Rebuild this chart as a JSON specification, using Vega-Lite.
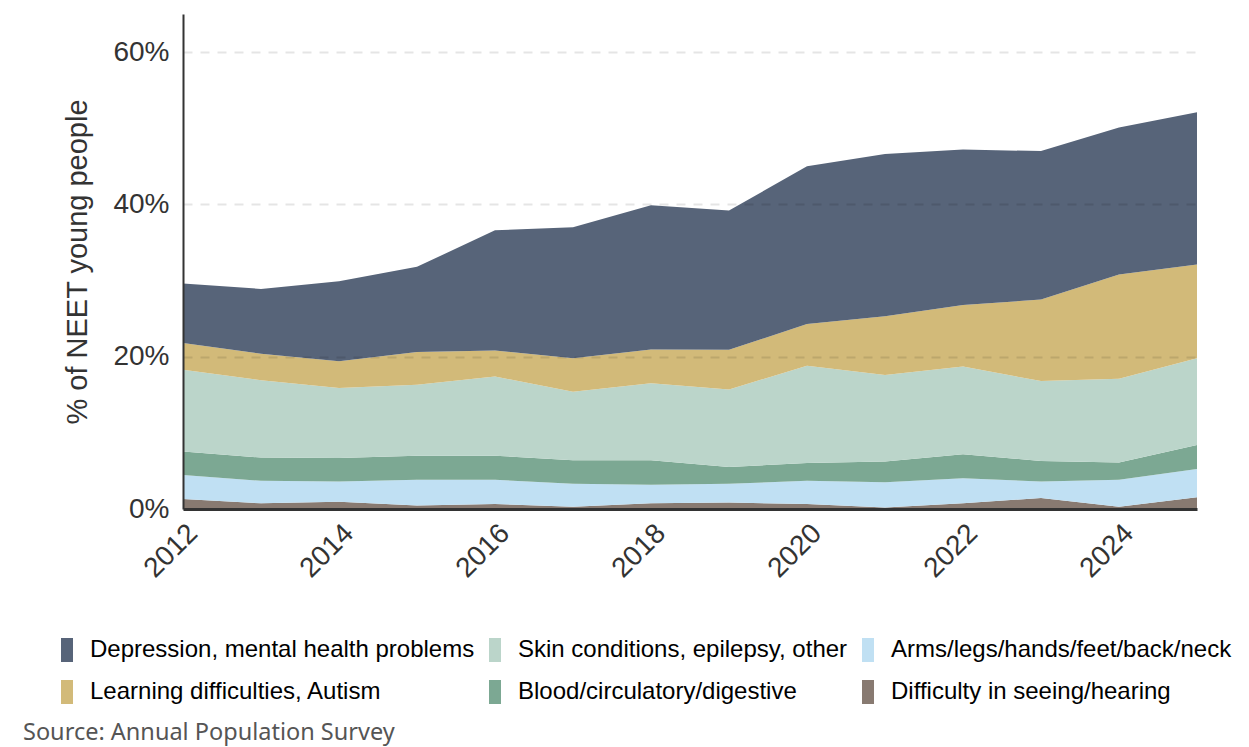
{
  "$schema": "https://vega.github.io/schema/vega-lite/v6.json",
  "width": 1014,
  "height": 495,
  "autosize": {"type": "none"},
  "padding": {"left": 183, "top": 14, "right": 52, "bottom": 238},
  "background": "white",
  "config": {
    "view": {"stroke": null},
    "font": "Liberation Sans"
  },
  "title": {
    "text": "Source: Annual Population Survey",
    "orient": "bottom",
    "anchor": "start",
    "frame": "group",
    "font": "Noto Sans",
    "fontSize": 23.5,
    "fontWeight": "normal",
    "color": "#555555",
    "dx": -160,
    "offset": 17
  },
  "data": {
    "values": [
      {"year": 2012, "cause": "Difficulty in seeing/hearing", "value": 1.3},
      {"year": 2012, "cause": "Arms/legs/hands/feet/back/neck", "value": 3.15},
      {"year": 2012, "cause": "Blood/circulatory/digestive", "value": 3.1},
      {"year": 2012, "cause": "Skin conditions, epilepsy, other", "value": 10.75},
      {"year": 2012, "cause": "Learning difficulties, Autism", "value": 3.5},
      {"year": 2012, "cause": "Depression, mental health problems", "value": 7.8},
      {"year": 2013, "cause": "Difficulty in seeing/hearing", "value": 0.75},
      {"year": 2013, "cause": "Arms/legs/hands/feet/back/neck", "value": 2.95},
      {"year": 2013, "cause": "Blood/circulatory/digestive", "value": 3.05},
      {"year": 2013, "cause": "Skin conditions, epilepsy, other", "value": 10.15},
      {"year": 2013, "cause": "Learning difficulties, Autism", "value": 3.5},
      {"year": 2013, "cause": "Depression, mental health problems", "value": 8.5},
      {"year": 2014, "cause": "Difficulty in seeing/hearing", "value": 0.95},
      {"year": 2014, "cause": "Arms/legs/hands/feet/back/neck", "value": 2.65},
      {"year": 2014, "cause": "Blood/circulatory/digestive", "value": 3.1},
      {"year": 2014, "cause": "Skin conditions, epilepsy, other", "value": 9.2},
      {"year": 2014, "cause": "Learning difficulties, Autism", "value": 3.5},
      {"year": 2014, "cause": "Depression, mental health problems", "value": 10.5},
      {"year": 2015, "cause": "Difficulty in seeing/hearing", "value": 0.45},
      {"year": 2015, "cause": "Arms/legs/hands/feet/back/neck", "value": 3.4},
      {"year": 2015, "cause": "Blood/circulatory/digestive", "value": 3.15},
      {"year": 2015, "cause": "Skin conditions, epilepsy, other", "value": 9.3},
      {"year": 2015, "cause": "Learning difficulties, Autism", "value": 4.3},
      {"year": 2015, "cause": "Depression, mental health problems", "value": 11.2},
      {"year": 2016, "cause": "Difficulty in seeing/hearing", "value": 0.65},
      {"year": 2016, "cause": "Arms/legs/hands/feet/back/neck", "value": 3.2},
      {"year": 2016, "cause": "Blood/circulatory/digestive", "value": 3.15},
      {"year": 2016, "cause": "Skin conditions, epilepsy, other", "value": 10.4},
      {"year": 2016, "cause": "Learning difficulties, Autism", "value": 3.4},
      {"year": 2016, "cause": "Depression, mental health problems", "value": 15.8},
      {"year": 2017, "cause": "Difficulty in seeing/hearing", "value": 0.3},
      {"year": 2017, "cause": "Arms/legs/hands/feet/back/neck", "value": 3.0},
      {"year": 2017, "cause": "Blood/circulatory/digestive", "value": 3.1},
      {"year": 2017, "cause": "Skin conditions, epilepsy, other", "value": 9.0},
      {"year": 2017, "cause": "Learning difficulties, Autism", "value": 4.4},
      {"year": 2017, "cause": "Depression, mental health problems", "value": 17.2},
      {"year": 2018, "cause": "Difficulty in seeing/hearing", "value": 0.75},
      {"year": 2018, "cause": "Arms/legs/hands/feet/back/neck", "value": 2.45},
      {"year": 2018, "cause": "Blood/circulatory/digestive", "value": 3.2},
      {"year": 2018, "cause": "Skin conditions, epilepsy, other", "value": 10.1},
      {"year": 2018, "cause": "Learning difficulties, Autism", "value": 4.45},
      {"year": 2018, "cause": "Depression, mental health problems", "value": 18.95},
      {"year": 2019, "cause": "Difficulty in seeing/hearing", "value": 0.85},
      {"year": 2019, "cause": "Arms/legs/hands/feet/back/neck", "value": 2.45},
      {"year": 2019, "cause": "Blood/circulatory/digestive", "value": 2.2},
      {"year": 2019, "cause": "Skin conditions, epilepsy, other", "value": 10.2},
      {"year": 2019, "cause": "Learning difficulties, Autism", "value": 5.2},
      {"year": 2019, "cause": "Depression, mental health problems", "value": 18.3},
      {"year": 2020, "cause": "Difficulty in seeing/hearing", "value": 0.65},
      {"year": 2020, "cause": "Arms/legs/hands/feet/back/neck", "value": 3.05},
      {"year": 2020, "cause": "Blood/circulatory/digestive", "value": 2.35},
      {"year": 2020, "cause": "Skin conditions, epilepsy, other", "value": 12.75},
      {"year": 2020, "cause": "Learning difficulties, Autism", "value": 5.5},
      {"year": 2020, "cause": "Depression, mental health problems", "value": 20.7},
      {"year": 2021, "cause": "Difficulty in seeing/hearing", "value": 0.2},
      {"year": 2021, "cause": "Arms/legs/hands/feet/back/neck", "value": 3.3},
      {"year": 2021, "cause": "Blood/circulatory/digestive", "value": 2.75},
      {"year": 2021, "cause": "Skin conditions, epilepsy, other", "value": 11.35},
      {"year": 2021, "cause": "Learning difficulties, Autism", "value": 7.7},
      {"year": 2021, "cause": "Depression, mental health problems", "value": 21.3},
      {"year": 2022, "cause": "Difficulty in seeing/hearing", "value": 0.75},
      {"year": 2022, "cause": "Arms/legs/hands/feet/back/neck", "value": 3.3},
      {"year": 2022, "cause": "Blood/circulatory/digestive", "value": 3.15},
      {"year": 2022, "cause": "Skin conditions, epilepsy, other", "value": 11.5},
      {"year": 2022, "cause": "Learning difficulties, Autism", "value": 8.1},
      {"year": 2022, "cause": "Depression, mental health problems", "value": 20.4},
      {"year": 2023, "cause": "Difficulty in seeing/hearing", "value": 1.45},
      {"year": 2023, "cause": "Arms/legs/hands/feet/back/neck", "value": 2.15},
      {"year": 2023, "cause": "Blood/circulatory/digestive", "value": 2.7},
      {"year": 2023, "cause": "Skin conditions, epilepsy, other", "value": 10.5},
      {"year": 2023, "cause": "Learning difficulties, Autism", "value": 10.7},
      {"year": 2023, "cause": "Depression, mental health problems", "value": 19.5},
      {"year": 2024, "cause": "Difficulty in seeing/hearing", "value": 0.3},
      {"year": 2024, "cause": "Arms/legs/hands/feet/back/neck", "value": 3.55},
      {"year": 2024, "cause": "Blood/circulatory/digestive", "value": 2.25},
      {"year": 2024, "cause": "Skin conditions, epilepsy, other", "value": 11.0},
      {"year": 2024, "cause": "Learning difficulties, Autism", "value": 13.7},
      {"year": 2024, "cause": "Depression, mental health problems", "value": 19.3},
      {"year": 2025, "cause": "Difficulty in seeing/hearing", "value": 1.55},
      {"year": 2025, "cause": "Arms/legs/hands/feet/back/neck", "value": 3.7},
      {"year": 2025, "cause": "Blood/circulatory/digestive", "value": 3.15},
      {"year": 2025, "cause": "Skin conditions, epilepsy, other", "value": 11.4},
      {"year": 2025, "cause": "Learning difficulties, Autism", "value": 12.3},
      {"year": 2025, "cause": "Depression, mental health problems", "value": 20.0}
    ]
  },
  "transform": [
    {"calculate": "indexof(['Difficulty in seeing/hearing','Arms/legs/hands/feet/back/neck','Blood/circulatory/digestive','Skin conditions, epilepsy, other','Learning difficulties, Autism','Depression, mental health problems'], datum.cause)", "as": "stackRank"}
  ],
  "mark": {"type": "area", "interpolate": "linear"},
  "encoding": {
    "x": {
      "field": "year",
      "type": "quantitative",
      "scale": {"domain": [2012, 2025], "nice": false, "zero": false},
      "axis": {
        "title": null,
        "values": [2012, 2014, 2016, 2018, 2020, 2022, 2024],
        "format": "d",
        "labelAngle": -45,
        "labelFontSize": 28,
        "labelColor": "#333333",
        "labelPadding": 10,
        "ticks": false,
        "grid": false,
        "domainColor": "#333333",
        "domainWidth": 3,
        "zindex": 1
      }
    },
    "y": {
      "field": "value",
      "type": "quantitative",
      "stack": "zero",
      "scale": {"domain": [0, 65], "nice": false},
      "axis": {
        "title": "% of NEET young people",
        "titleFontSize": 29,
        "titleFontWeight": "normal",
        "titleColor": "#333333",
        "titlePadding": 20,
        "values": [0, 20, 40, 60],
        "labelExpr": "datum.value + '%'",
        "labelFontSize": 28,
        "labelColor": "#333333",
        "labelPadding": 14,
        "ticks": false,
        "grid": true,
        "gridColor": "#000000",
        "gridOpacity": 0.1,
        "gridWidth": 2,
        "gridDash": [9, 8],
        "domainColor": "#333333",
        "domainWidth": 2,
        "zindex": 1
      }
    },
    "color": {
      "field": "cause",
      "type": "nominal",
      "scale": {
        "domain": [
          "Depression, mental health problems",
          "Skin conditions, epilepsy, other",
          "Arms/legs/hands/feet/back/neck",
          "Learning difficulties, Autism",
          "Blood/circulatory/digestive",
          "Difficulty in seeing/hearing"
        ],
        "range": ["#576479", "#BBD5CA", "#C0E0F3", "#D2BA79", "#7CA893", "#887A71"]
      },
      "legend": {
        "title": null,
        "orient": "none",
        "legendX": -128,
        "legendY": 624,
        "direction": "horizontal",
        "columns": 3,
        "columnPadding": 8,
        "rowPadding": 18,
        "padding": 0,
        "symbolType": "M-0.5,-1H0.5V1H-0.5Z",
        "symbolSize": 576,
        "symbolStrokeWidth": 0,
        "symbolOpacity": 1,
        "labelFontSize": 24,
        "labelColor": "#000000",
        "labelOffset": 11,
        "labelLimit": 600
      }
    },
    "order": {"field": "stackRank", "type": "quantitative"}
  }
}
